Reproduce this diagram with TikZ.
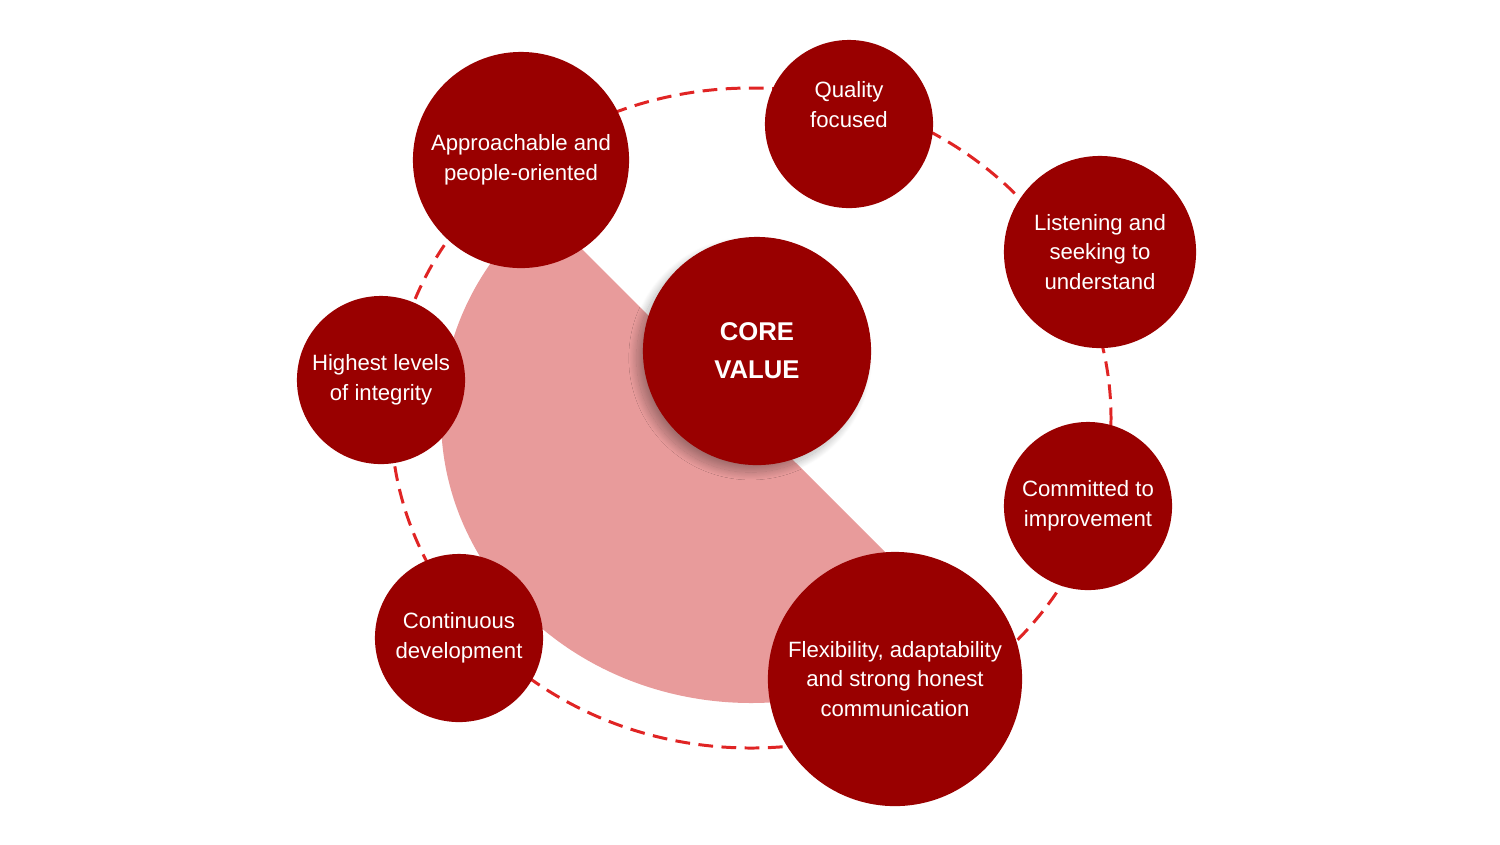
\documentclass[tikz,border=0pt]{standalone}
\usepackage{fontspec}
\setmainfont{Liberation Sans}
\usetikzlibrary{shadows.blur}
\definecolor{valuered}{HTML}{990000}
\definecolor{valuepink}{HTML}{E89B9B}
\definecolor{ringred}{HTML}{E02424}

\begin{document}
\begin{tikzpicture}[x=0.01cm, y=-0.01cm,
    bubble/.style={circle, fill=valuered, text=white, align=center, inner sep=0pt,
      minimum size=#1*0.02cm, font=\fontsize{6.3}{8.5}\selectfont},
    bubbletext/.style={text=white, align=center, font=\fontsize{6.3}{8.5}\selectfont},
    ring/.style={draw=ringred, line width=0.85pt, dash pattern=on 4.2pt off 2.4pt},
    halfdisc/.style={fill=valuepink}]
    \useasboundingbox (0,0) rectangle (1500,844);
    \coordinate (hub) at (751,418);
    \draw[ring] (hub) ellipse [x radius=360, y radius=330];
    \fill[halfdisc] (hub) ++(227.4:310 and 285)
      arc [start angle=227.4, end angle=47.4, x radius=310, y radius=285] -- cycle;

    \node[bubble=108] (approach) at (521,160) {Approachable and\\people-oriented};
    \node[bubble=84] (quality) at (849,124) {};
    \node[bubbletext] (qualitytext) at (849,105) {Quality\\focused};
    \node[bubble=96] (listen) at (1100,252) {Listening and\\seeking to\\understand};
    \node[bubble=84] (integrity) at (381,380) {Highest levels\\of integrity};
    \node[bubble=84] (improve) at (1088,506) {Committed to\\improvement};
    \node[bubble=84] (develop) at (459,638) {Continuous\\development};
    \node[bubble=127] (flex) at (895,679) {Flexibility, adaptability\\and strong honest\\communication};
    \node[bubble=114, font=\fontsize{7.3}{10.8}\selectfont\bfseries,
      blur shadow={shadow xshift=-1.8pt, shadow yshift=-2pt, shadow blur radius=2.2pt,
        shadow blur steps=30, shadow opacity=30}]
      (core) at (757,351) {CORE\\VALUE};
\end{tikzpicture}
\end{document}
